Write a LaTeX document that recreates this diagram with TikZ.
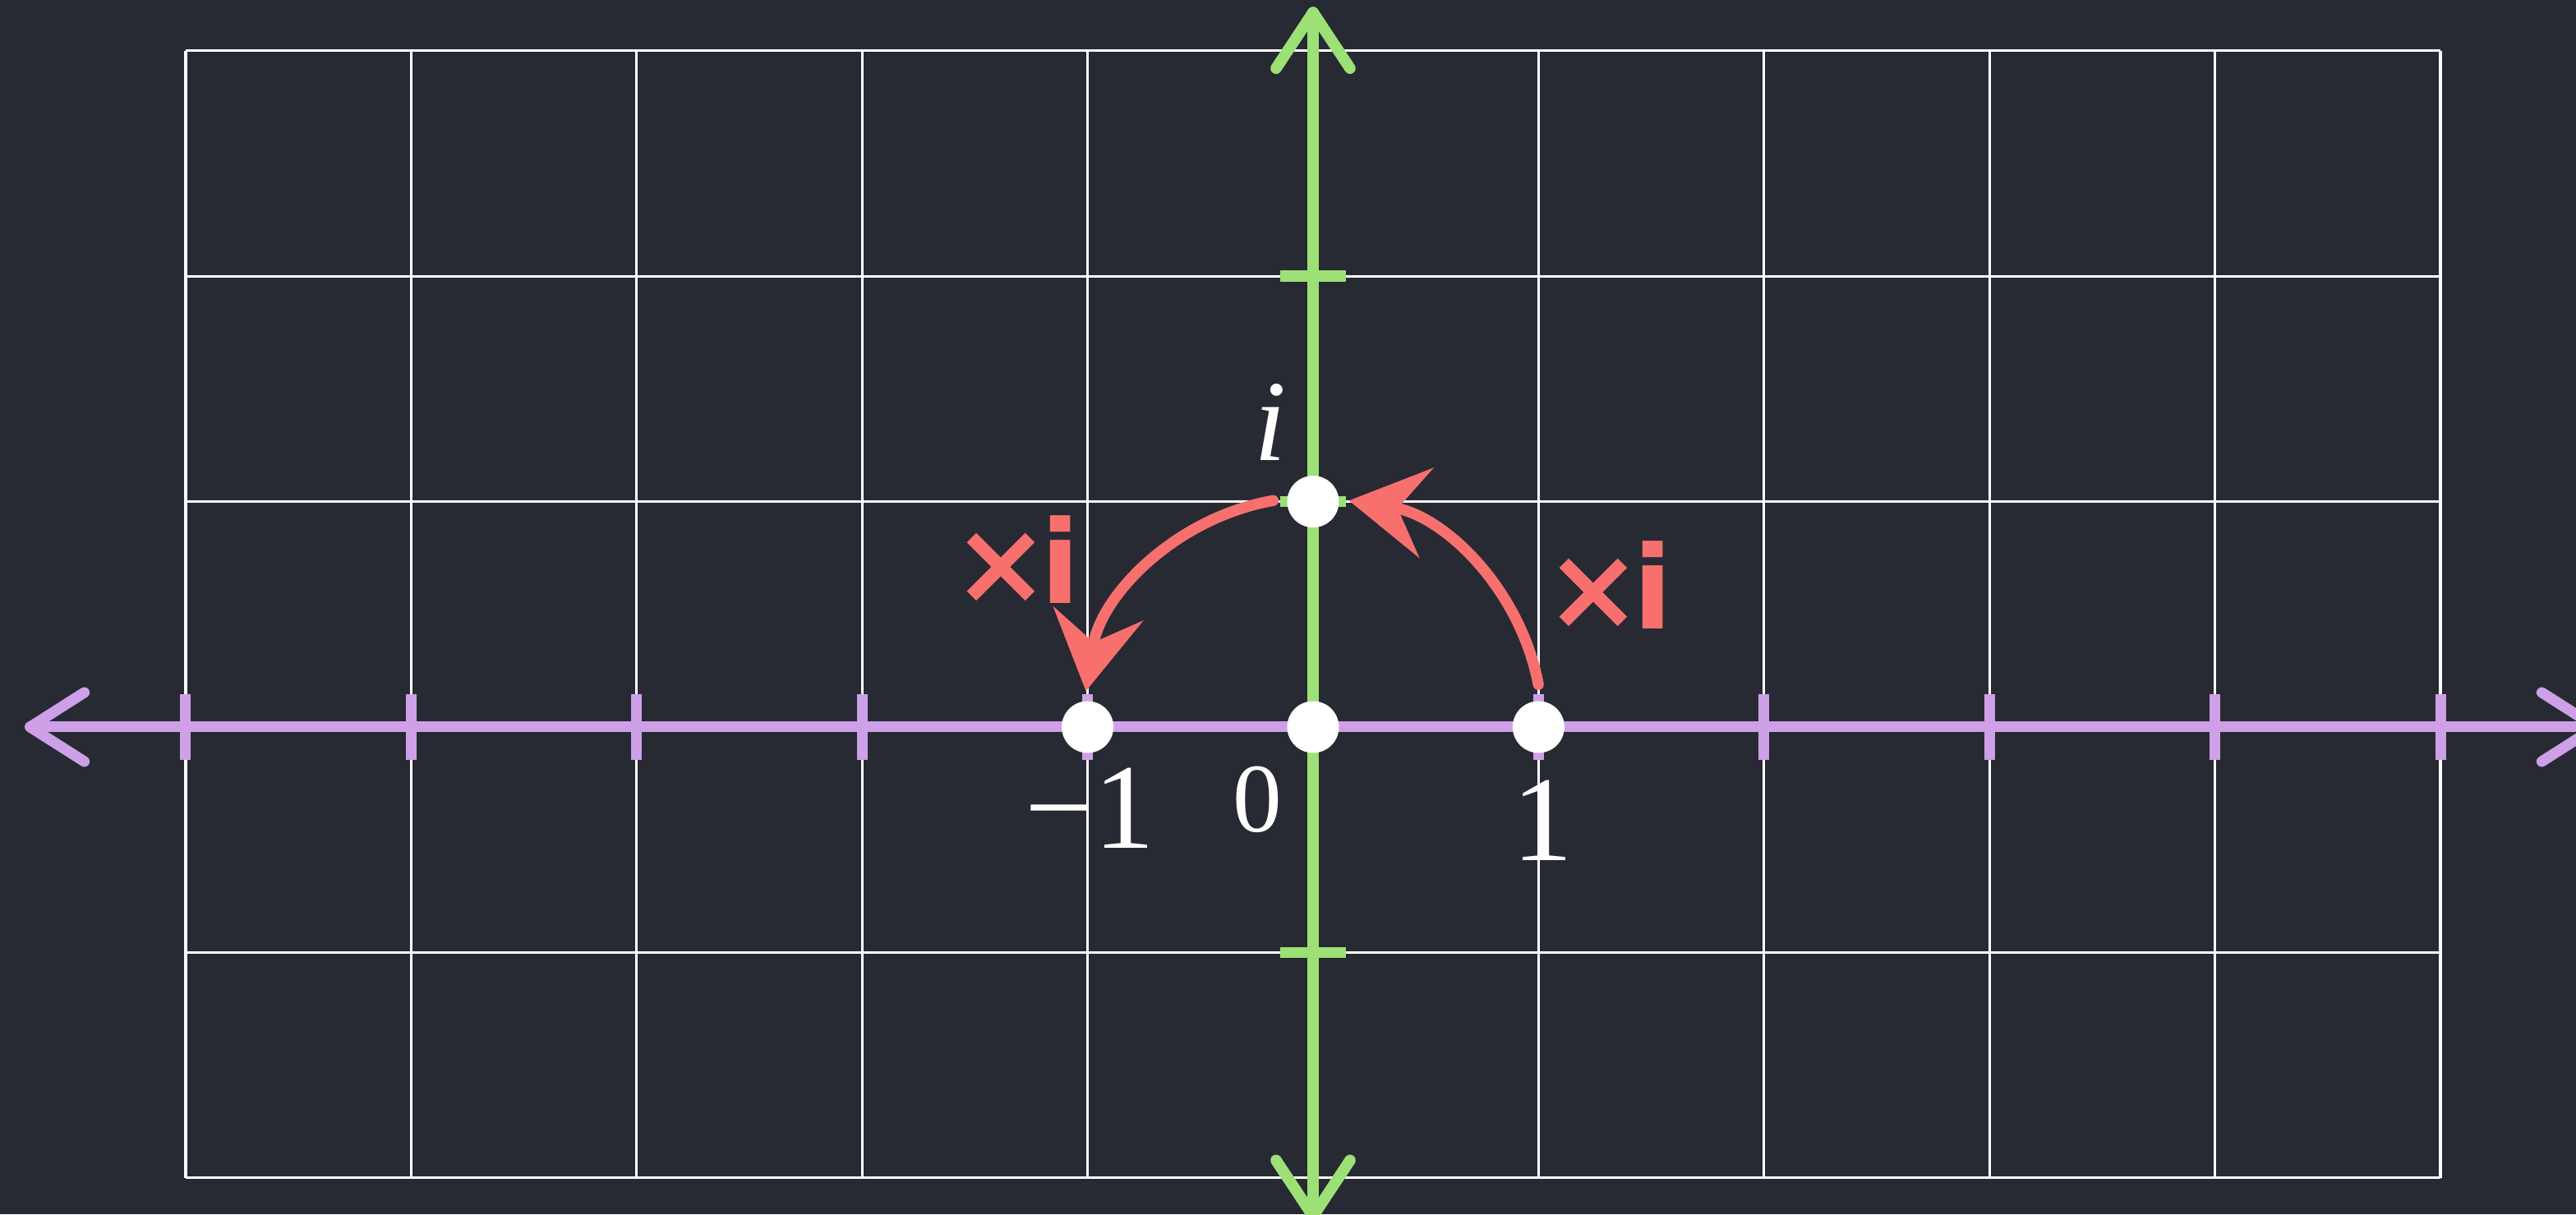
\documentclass[tikz,border=0pt]{standalone}
\usepackage{fontspec}
\setmainfont{Liberation Serif}
\newfontfamily\chalkfont{DejaVu Sans}
\usetikzlibrary{arrows.meta,calc}
\definecolor{board}{RGB}{39,42,51}
\definecolor{chalkpurple}{RGB}{206,160,232}
\definecolor{chalkgreen}{RGB}{156,224,118}
\definecolor{chalkred}{RGB}{248,112,110}
\begin{document}
\begin{tikzpicture}[x=2.744cm,y=2.744cm,
  gridline/.style={white,line width=0.9pt},
  realaxis/.style={chalkpurple,line width=3.7pt,line cap=round,line join=round},
  imagaxis/.style={chalkgreen,line width=3.9pt,line cap=round,line join=round},
  redarc/.style={chalkred,line width=3.8pt,line cap=round,
    -{Stealth[length=0.95cm,width=1.1cm,inset=0.35cm]}},
  dot/.style={circle,fill=white,minimum size=0.63cm,inner sep=0pt},
  numlabel/.style={white,font=\fontsize{42}{48}\selectfont,anchor=base,inner sep=0pt},
  zerolabel/.style={white,font=\fontsize{34}{40}\selectfont,anchor=base,inner sep=0pt},
  ilabel/.style={white,font=\fontsize{40}{46}\selectfont\itshape,anchor=base,inner sep=0pt},
  mullabel/.style={chalkred,font=\chalkfont\bfseries\fontsize{40}{46}\selectfont,anchor=base,inner sep=0pt}
]
\fill[board] (-5.8236,-2.1611) rectangle (5.6013,3.2252);
\useasboundingbox (-5.8236,-2.1611) rectangle (5.6013,3.2252);
\draw[gridline,xstep=2.744cm,ystep=2.744cm] (-5,-2) grid (5,3);

% axes end points
\coordinate (L) at (-5.69,0);
\coordinate (R) at (5.69,0);
\coordinate (T) at (0,3.17);
\coordinate (B) at (0,-2.17);

% real axis
\draw[realaxis] (L) -- (R);
\draw[realaxis] ($(L)+(0.66cm,0.42cm)$) -- (L) -- ($(L)+(0.66cm,-0.42cm)$);
\draw[realaxis] ($(R)+(-0.66cm,0.42cm)$) -- (R) -- ($(R)+(-0.66cm,-0.42cm)$);
\foreach \x in {-5,-4,-3,-2,-1,1,2,3,4,5}
  \draw[realaxis,line cap=butt] (\x,0) ++(0,0.4cm) -- ++(0,-0.8cm);

% imaginary axis
\draw[imagaxis] (B) -- (T);
\draw[imagaxis] ($(T)+(-0.45cm,-0.68cm)$) -- (T) -- ($(T)+(0.45cm,-0.68cm)$);
\draw[imagaxis] ($(B)+(-0.45cm,0.68cm)$) -- (B) -- ($(B)+(0.45cm,0.68cm)$);
\foreach \y in {-1,1,2}
  \draw[imagaxis,line cap=butt] (0,\y) ++(-0.4cm,0) -- ++(0.8cm,0);

% points
\node[dot] (m1) at (-1,0) {};
\node[dot] (o) at (0,0) {};
\node[dot] (p1) at (1,0) {};
\node[dot] (pi) at (0,1) {};

% rotation arcs
\draw[redarc] (o.center) ++(10.7:1.017) arc[start angle=10.7,end angle=81,radius=1.017];
\draw[redarc] (o.center) ++(100:1.02) arc[start angle=100,end angle=171,radius=1.02];

% labels
\node[numlabel] (lm1) at (-0.99,-0.539) {−1};
\node[zerolabel] (l0) at (-0.248,-0.466) {0};
\node[numlabel] (l1) at (1.017,-0.594) {1};
\node[ilabel] (li) at (-0.19,1.184) {i};
\node[mullabel] (ml) at (-1.316,0.547) {×\kern-0.08em i};
\node[mullabel] (mr) at (1.312,0.437) {×\kern-0.08em i};
\end{tikzpicture}
\end{document}
